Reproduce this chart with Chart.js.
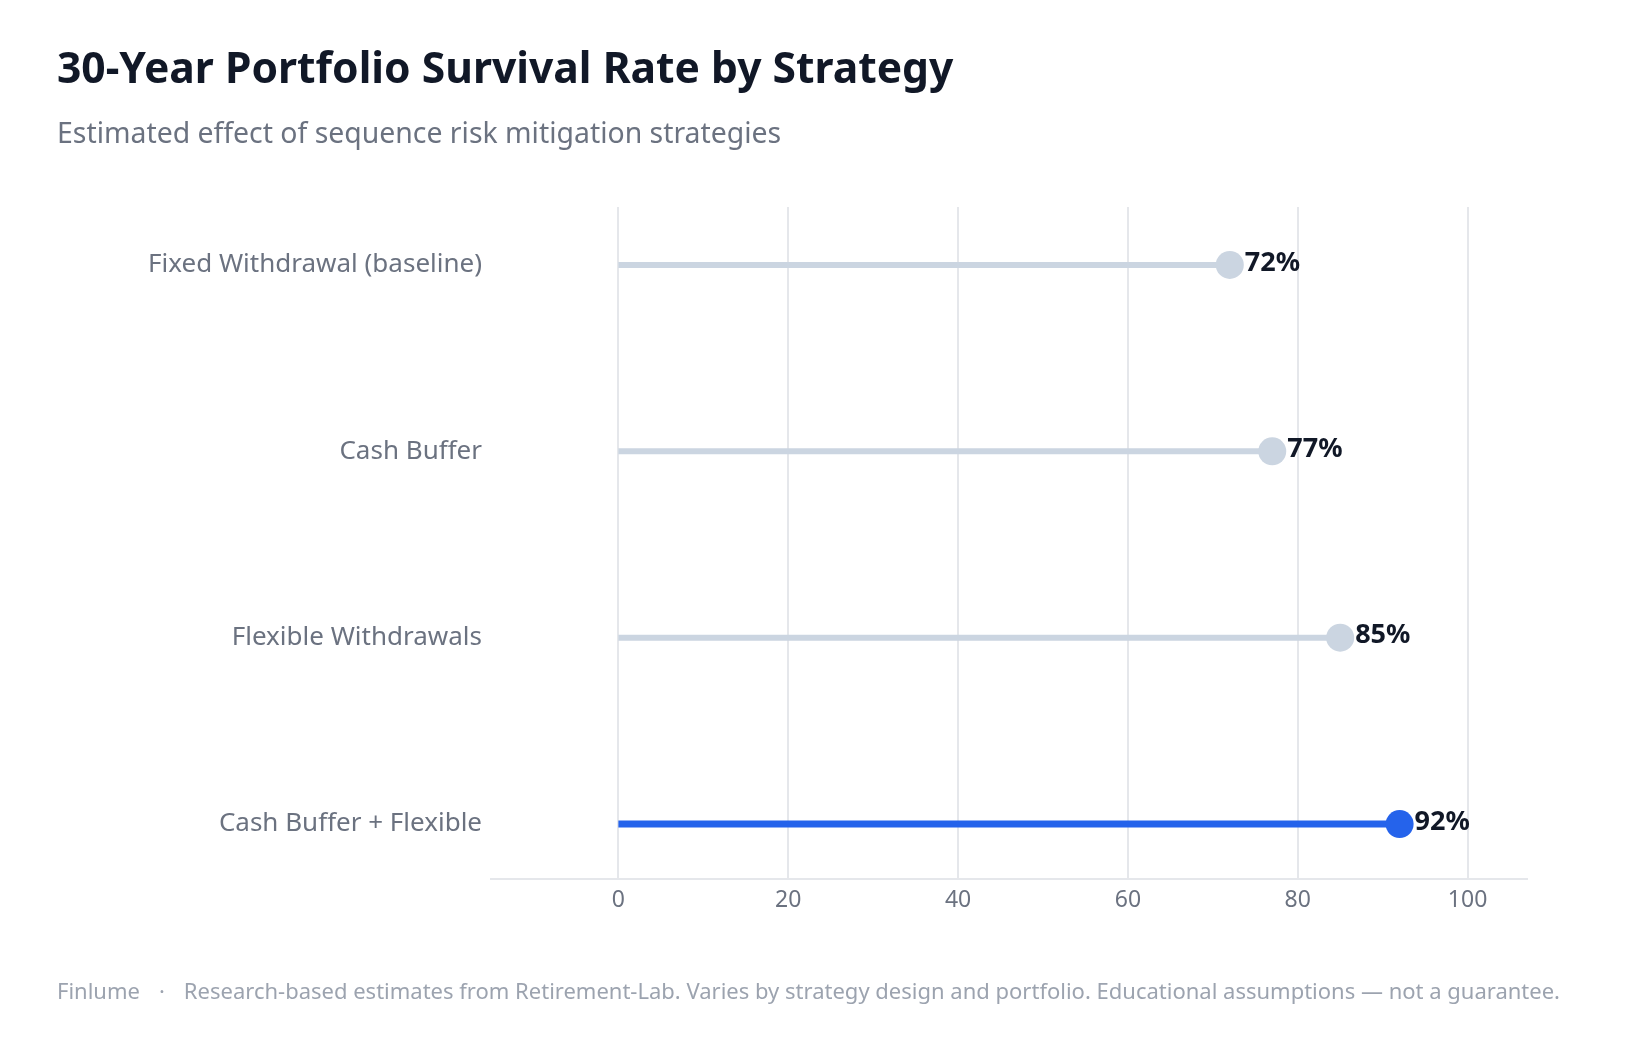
<!DOCTYPE html>
<html lang="en">
<head>
    <meta charset="UTF-8">
    <title>30-Year Portfolio Survival Rate by Strategy</title>
    <script src="https://cdn.jsdelivr.net/npm/chart.js@4.4.1/dist/chart.umd.min.js"></script>
    <style>
        body {
            margin: 0;
            background: #FFFFFF;
            font-family: "Noto Sans", Arial, sans-serif;
            width: 1639px;
            height: 1040px;
            position: relative;
            overflow: hidden;
        }
        #chart {
            position: absolute;
            left: 0;
            top: 0;
        }
        .title {
            position: absolute;
            left: 57px;
            top: 37px;
            font-size: 42.6px;
            font-weight: 700;
            color: #111827;
            white-space: nowrap;
        }
        .subtitle {
            position: absolute;
            left: 57px;
            top: 113px;
            font-size: 28.4px;
            color: #6b7280;
            white-space: nowrap;
        }
        .footer {
            position: absolute;
            left: 57px;
            top: 975px;
            font-size: 22px;
            color: #9ca3af;
            white-space: nowrap;
        }
        .footer .dot { margin: 0 19px; }
    </style>
</head>
<body>
    <canvas id="chart" width="1639" height="1040"></canvas>
    <div class="title">30-Year Portfolio Survival Rate by Strategy</div>
    <div class="subtitle">Estimated effect of sequence risk mitigation strategies</div>
    <div class="footer">Finlume<span class="dot">·</span>Research-based estimates from Retirement-Lab. Varies by strategy design and portfolio. Educational assumptions — not a guarantee.</div>

    <script>
        // data
        const strategies = ['Fixed Withdrawal (baseline)', 'Cash Buffer', 'Flexible Withdrawals', 'Cash Buffer + Flexible'];
        const survivalRates = [72, 77, 85, 92];
        const xTicks = [0, 20, 40, 60, 80, 100];

        const grayColor = '#cbd5e1';
        const blueColor = '#2563eb';
        const highlightIndex = 3;

        const datasets = strategies.map((name, i) => {
            const color = i === highlightIndex ? blueColor : grayColor;
            return {
                label: name,
                data: [{ x: 0, y: i }, { x: survivalRates[i], y: i }],
                borderColor: color,
                borderWidth: i === highlightIndex ? 7 : 6,
                pointRadius: [0, 14],
                pointHoverRadius: [0, 14],
                pointBackgroundColor: color,
                pointBorderWidth: 0,
                showLine: true,
                fill: false
            };
        });

        // value labels to the right of each dot
        const valueLabels = {
            id: 'valueLabels',
            afterDatasetsDraw(chart) {
                const ctx = chart.ctx;
                ctx.save();
                ctx.font = 'bold 27px "Noto Sans", Arial, sans-serif';
                ctx.fillStyle = '#111827';
                ctx.textAlign = 'left';
                ctx.textBaseline = 'middle';
                chart.data.datasets.forEach((ds, i) => {
                    const pt = chart.getDatasetMeta(i).data[1];
                    ctx.fillText(survivalRates[i] + '%', pt.x + 15, pt.y - 2);
                });
                ctx.restore();
            }
        };

        const ctx = document.getElementById('chart').getContext('2d');
        new Chart(ctx, {
            type: 'scatter',
            data: { datasets: datasets },
            plugins: [valueLabels],
            options: {
                responsive: false,
                animation: false,
                layout: { padding: { top: 207, right: 112, left: 0, bottom: 0 } },
                plugins: {
                    legend: { display: false },
                    tooltip: { enabled: false }
                },
                scales: {
                    x: {
                        type: 'linear',
                        min: -15,
                        max: 107,
                        afterBuildTicks: (scale) => { scale.ticks = xTicks.map(v => ({ value: v })); },
                        afterFit: (scale) => { scale.height = 161; },
                        grid: { color: '#e5e7eb', lineWidth: 2, drawTicks: false },
                        border: { display: true, color: '#e5e7eb', width: 2 },
                        ticks: {
                            color: '#6b7280',
                            font: { family: '"Noto Sans", Arial, sans-serif', size: 23 },
                            padding: 8
                        }
                    },
                    y: {
                        type: 'linear',
                        reverse: true,
                        min: -0.311,
                        max: 3.295,
                        afterBuildTicks: (scale) => { scale.ticks = strategies.map((s, i) => ({ value: i })); },
                        afterFit: (scale) => { scale.width = 491; },
                        grid: { display: false, drawTicks: false },
                        border: { display: false },
                        ticks: {
                            color: '#6b7280',
                            font: { family: '"Noto Sans", Arial, sans-serif', size: 26 },
                            padding: 9,
                            callback: (v) => strategies[v]
                        }
                    }
                }
            }
        });
    </script>
</body>
</html>
